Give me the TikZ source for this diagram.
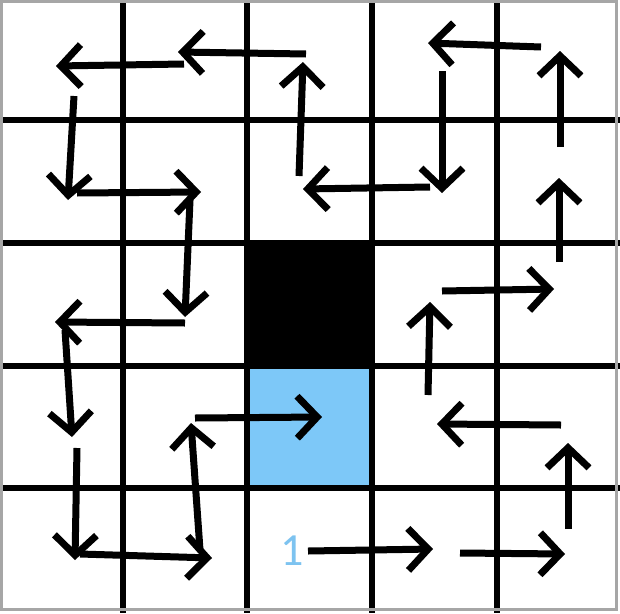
\documentclass[tikz,border=0pt]{standalone}
\usepackage{fontspec}
\newfontfamily\labelfont{Carlito}
\usetikzlibrary{arrows.meta}
\definecolor{skyfill}{RGB}{125,200,248}
\definecolor{labelblue}{RGB}{125,195,240}
\begin{document}
\begin{tikzpicture}[x=1pt,y=-1pt,
  gridline/.style={line width=6.5pt,black},
  mv/.style={line width=7pt,line cap=butt,-{Straight Barb[length=20pt,width=42pt]}},
  framebox/.style={draw=gray!70,line width=3pt}
]
\useasboundingbox (0,0) rectangle (620,613);
\fill[white] (0,0) rectangle (620,613);
\fill[black] (247,243) rectangle (372,366);
\fill[skyfill] (247,366) rectangle (372,488);
\foreach \x in {123,247,372,497} \draw[gridline] (\x,0) -- (\x,613);
\foreach \y in {120,243,366,488} \draw[gridline] (0,\y) -- (620,\y);
\draw[framebox] (1.5,1.5) rectangle (616,609.5);
\foreach \n/\sx/\sy/\ex/\ey in {
  1/306/54/178/52, 2/184/64/56/66, 3/74/96/68/200, 4/77/193/201/192,
  5/190/200/185/317, 6/185/323/55/322, 7/65/330/72/437, 8/77/448/75/560,
  9/80/554/212/558, 10/200/550/191/423, 11/195/418/322/417, 12/299/176/303/62,
  13/430/187/303/189, 14/442/71/442/193, 15/541/47/428/43, 16/560/147/560/51,
  17/559/262/559/178, 18/442/291/554/289, 19/428/395/430/302, 20/561/425/437/424,
  21/568/529/568/443, 22/460/553/565/554, 23/308/551/433/549}
{
  \coordinate (s\n) at (\sx,\sy);
  \coordinate (e\n) at (\ex,\ey);
  \draw[mv] (s\n) -- (e\n);
}
\node[text=labelblue, font=\labelfont\fontsize{46}{46}\selectfont, anchor=base, inner sep=0pt] (one) at (292,565) {1};
\end{tikzpicture}
\end{document}
